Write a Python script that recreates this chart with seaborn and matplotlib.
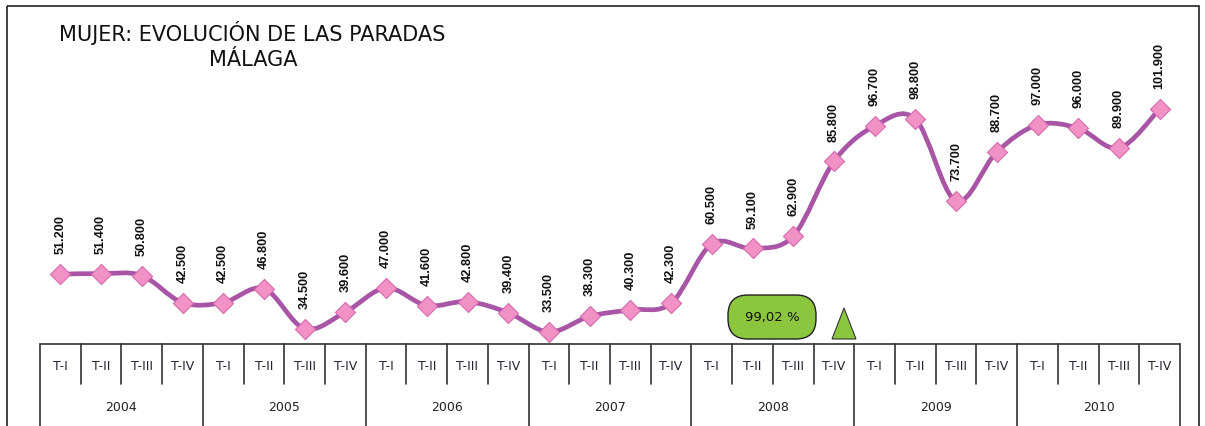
import matplotlib.pyplot as plt
import seaborn as sns
import numpy as np
import pandas as pd
from matplotlib.path import Path
from matplotlib.patches import PathPatch, Rectangle, FancyBboxPatch, Polygon
from matplotlib.transforms import Affine2D

# Datos: paradas (mujeres), Málaga, por trimestre
years = ["2004", "2005", "2006", "2007", "2008", "2009", "2010"]
quarters = ["T-I", "T-II", "T-III", "T-IV"]
paradas = [51200, 51400, 50800, 42500,
           42500, 46800, 34500, 39600,
           47000, 41600, 42800, 39400,
           33500, 38300, 40300, 42300,
           60500, 59100, 62900, 85800,
           96700, 98800, 73700, 88700,
           97000, 96000, 89900, 101900]
badge_text = "99,02 %"

W, H = 1205, 427
sns.set_theme(style="white")
plt.rcParams["font.family"] = ["DejaVu Sans"]

fig = plt.figure(figsize=(W / 100, H / 100), dpi=100)
# transformación en píxeles (origen arriba a la izquierda)
pix = Affine2D().scale(1 / W, -1 / H).translate(0, 1) + fig.transFigure

def fx(px):
    return px / W

def fy(py):
    return 1 - py / H

# Ejes: de x=40 a x=1180 px, de y=20 a y=345 px
ax = fig.add_axes([fx(40), fy(345), fx(1180) - fx(40), fy(20) - fy(345)])
n = len(paradas)
df = pd.DataFrame({"pos": np.arange(n), "valor": np.array(paradas) / 1000})

# Línea suavizada (Bezier tipo Excel) a partir de los datos
x = df["pos"].to_numpy(dtype=float)
y = df["valor"].to_numpy(dtype=float)
verts = [(x[0], y[0])]
codes = [Path.MOVETO]
for i in range(n - 1):
    p0 = np.array([x[max(i - 1, 0)], y[max(i - 1, 0)]])
    p1 = np.array([x[i], y[i]])
    p2 = np.array([x[i + 1], y[i + 1]])
    p3 = np.array([x[min(i + 2, n - 1)], y[min(i + 2, n - 1)]])
    c1 = p1 + (p2 - p0) / 6
    c2 = p2 - (p3 - p1) / 6
    verts += [tuple(c1), tuple(c2), tuple(p2)]
    codes += [Path.CURVE4] * 3
ax.add_patch(PathPatch(Path(verts, codes), facecolor="none",
                       edgecolor="#A855A6", linewidth=3.4, zorder=2,
                       capstyle="round", joinstyle="round"))

sns.scatterplot(data=df, x="pos", y="valor", marker="D", s=105,
                color="#F291C5", edgecolor="#D56AAE", linewidth=0.8,
                zorder=3, ax=ax, legend=False)
ax.set_xlim(-0.5, n - 0.5)
ax.set_ylim(29.8, 129.5)
ax.axis("off")

# Etiquetas de datos verticales
for xi, v in zip(x, paradas):
    lab = f"{v:,}".replace(",", ".")
    ax.annotate(lab, (xi, v / 1000), xytext=(0, 15), textcoords="offset points",
                rotation=90, ha="center", va="bottom", fontsize=9.2,
                fontweight="bold", family=["Liberation Sans", "DejaVu Sans"],
                color="#111111")

# Tabla de categorías (trimestres / años)
tcol = "#333333"
fig.add_artist(plt.Line2D([40, 1180], [345, 345], color=tcol, lw=1.2, transform=pix))
cell = (1180 - 40) / n
for k in range(n + 1):
    xp = 40 + k * cell
    yb = 430 if k % 4 == 0 else 385
    fig.add_artist(plt.Line2D([xp, xp], [345, yb], color=tcol, lw=1.2, transform=pix))
for k in range(n):
    fig.text(40 + (k + 0.5) * cell, 367, quarters[k % 4], ha="center",
             va="center", fontsize=9, color="#222233", transform=pix)
for j, yr in enumerate(years):
    fig.text(40 + (4 * j + 2) * cell, 408, yr, ha="center",
             va="center", fontsize=9, color="#222222", transform=pix)

# Recuadro verde y triángulo
fig.add_artist(FancyBboxPatch((728, 296), 88, 44,
                              boxstyle="round,pad=0,rounding_size=20",
                              facecolor="#8CC63F", edgecolor="#222222", lw=1,
                              transform=pix))
fig.text(772, 318, badge_text, ha="center", va="center", fontsize=9.5,
         color="#111111", transform=pix)
fig.add_artist(Polygon([(832, 340), (856, 340), (844, 309)], closed=True,
                       facecolor="#8CC63F", edgecolor="#333333", lw=0.8,
                       transform=pix))

# Título
fig.text(252, 33, "MUJER: EVOLUCIÓN DE LAS PARADAS", ha="center",
         va="center", fontsize=15, color="#111111", transform=pix)
fig.text(253, 60, "MÁLAGA", ha="center", va="center", fontsize=15,
         color="#111111", transform=pix)

# Marco exterior
fig.add_artist(Rectangle((7, 7), 1192, 440, facecolor="none",
                         edgecolor="#222222", lw=1.2, transform=pix))

fig.savefig("out.png", dpi=100)
